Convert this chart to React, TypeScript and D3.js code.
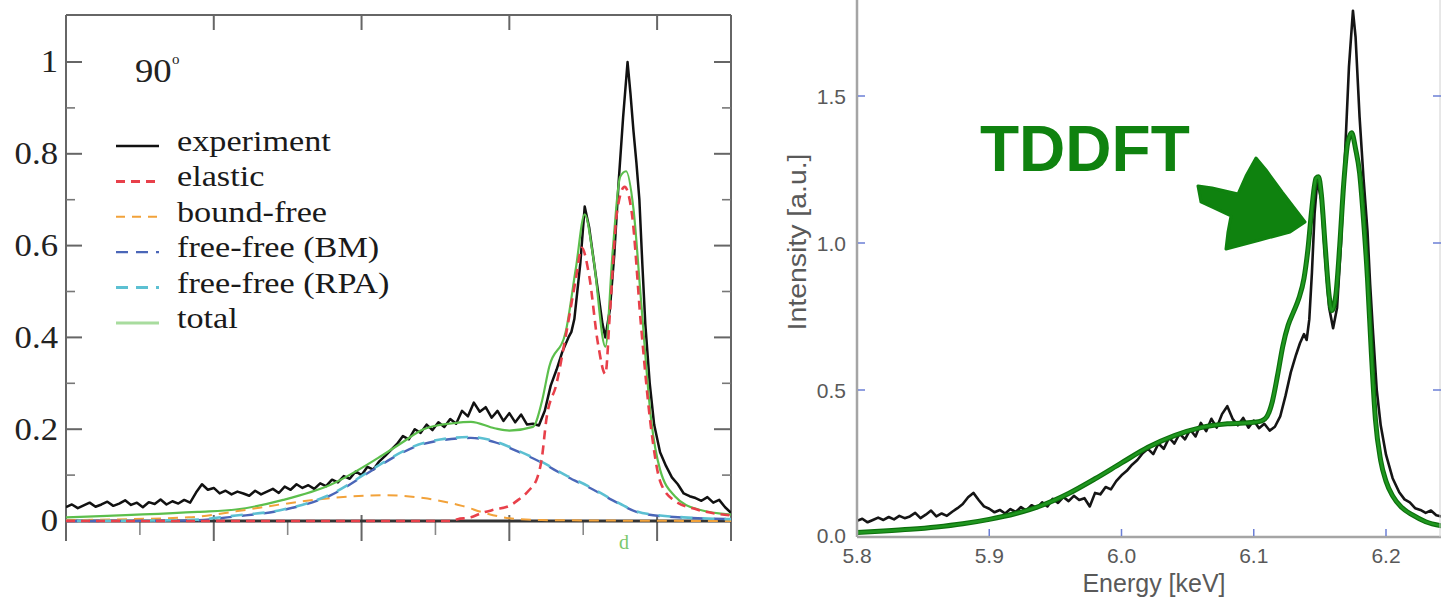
import React from "react";
import * as d3 from "d3";

type P = [number, number];

// ---------- Left panel (90°) data: energy [keV], normalized intensity ----------
const leftExperiment: P[] = [
  [5.800,0.030],[5.804,0.036],[5.808,0.028],[5.812,0.034],[5.816,0.040],[5.820,0.031],[5.824,0.036],[5.828,0.042],
  [5.832,0.033],[5.836,0.038],[5.840,0.045],[5.844,0.035],[5.848,0.040],[5.852,0.030],[5.856,0.041],[5.860,0.037],
  [5.864,0.047],[5.868,0.036],[5.872,0.043],[5.876,0.038],[5.880,0.046],[5.884,0.040],[5.888,0.062],[5.892,0.080],
  [5.896,0.068],[5.900,0.072],[5.904,0.060],[5.908,0.066],[5.912,0.058],[5.916,0.064],[5.920,0.060],[5.924,0.055],
  [5.928,0.066],[5.932,0.058],[5.936,0.064],[5.940,0.070],[5.944,0.061],[5.948,0.075],[5.952,0.068],[5.956,0.080],
  [5.960,0.072],[5.964,0.078],[5.968,0.070],[5.972,0.082],[5.976,0.076],[5.980,0.090],[5.984,0.084],[5.988,0.098],
  [5.992,0.092],[5.996,0.108],[6.000,0.100],[6.004,0.118],[6.008,0.112],[6.012,0.130],[6.016,0.142],[6.020,0.155],
  [6.024,0.168],[6.028,0.185],[6.032,0.178],[6.036,0.200],[6.040,0.192],[6.044,0.210],[6.048,0.198],[6.052,0.215],
  [6.056,0.205],[6.060,0.222],[6.064,0.212],[6.068,0.240],[6.072,0.228],[6.076,0.258],[6.080,0.238],[6.084,0.248],
  [6.088,0.225],[6.092,0.240],[6.096,0.218],[6.100,0.235],[6.104,0.215],[6.108,0.232],[6.112,0.210],[6.116,0.212],
  [6.120,0.208],[6.124,0.240],[6.128,0.295],[6.132,0.330],[6.136,0.370],[6.140,0.400],[6.142,0.412],[6.144,0.440],
  [6.148,0.560],[6.151,0.685],[6.154,0.640],[6.157,0.570],[6.160,0.500],[6.163,0.430],[6.165,0.400],[6.168,0.460],
  [6.171,0.580],[6.174,0.740],[6.177,0.880],[6.180,1.000],[6.182,0.930],[6.184,0.850],[6.186,0.780],[6.188,0.700],
  [6.190,0.560],[6.192,0.430],[6.195,0.300],[6.198,0.210],[6.202,0.150],[6.206,0.120],[6.210,0.095],[6.214,0.080],
  [6.218,0.060],[6.222,0.054],[6.226,0.050],[6.230,0.044],[6.234,0.052],[6.238,0.040],[6.242,0.046],[6.246,0.030],
  [6.250,0.018],
];

const leftElastic: P[] = [
  [5.800,0],[6.060,0],[6.065,0.004],[6.074,0.008],[6.081,0.017],[6.090,0.025],[6.100,0.033],[6.106,0.046],
  [6.113,0.066],[6.119,0.095],[6.122,0.137],[6.125,0.220],[6.132,0.300],[6.138,0.400],[6.145,0.527],[6.149,0.595],
  [6.154,0.535],[6.160,0.386],[6.165,0.320],[6.168,0.450],[6.173,0.676],[6.178,0.728],[6.183,0.668],[6.189,0.430],
  [6.196,0.200],[6.202,0.087],[6.211,0.046],[6.227,0.025],[6.250,0.012],
];

const leftBoundFree: P[] = [
  [5.800,0.002],[5.883,0.008],[5.915,0.021],[5.947,0.037],[5.979,0.050],[6.017,0.056],[6.042,0.050],
  [6.068,0.033],[6.084,0.017],[6.100,0.006],[6.122,0.002],[6.250,0.000],
];

const leftFreeFreeBM: P[] = [
  [5.800,0],[5.883,0.001],[5.915,0.010],[5.947,0.024],[5.979,0.056],[6.011,0.118],[6.027,0.148],[6.042,0.168],
  [6.074,0.181],[6.090,0.172],[6.106,0.151],[6.122,0.127],[6.138,0.098],[6.154,0.073],[6.170,0.045],[6.186,0.020],
  [6.202,0.011],[6.250,0.004],
];

const leftFreeFreeRPA: P[] = [
  [5.800,0],[5.883,0.002],[5.915,0.012],[5.947,0.025],[5.979,0.058],[6.011,0.120],[6.027,0.150],[6.042,0.170],
  [6.074,0.183],[6.090,0.174],[6.106,0.153],[6.122,0.129],[6.138,0.100],[6.154,0.075],[6.170,0.046],[6.186,0.021],
  [6.202,0.012],[6.218,0.008],[6.250,0.004],
];

const leftTotal: P[] = [
  [5.800,0.008],[5.889,0.020],[5.915,0.025],[5.947,0.046],[5.979,0.079],[6.011,0.137],[6.027,0.170],[6.042,0.200],
  [6.062,0.213],[6.074,0.216],[6.090,0.202],[6.100,0.197],[6.116,0.205],[6.122,0.260],[6.127,0.336],[6.138,0.410],
  [6.145,0.550],[6.151,0.668],[6.157,0.570],[6.165,0.380],[6.170,0.590],[6.175,0.750],[6.179,0.762],[6.184,0.680],
  [6.189,0.485],[6.196,0.220],[6.202,0.112],[6.212,0.054],[6.228,0.025],[6.250,0.014],
];

const leftYMajor = [0, 0.2, 0.4, 0.6, 0.8, 1];
const leftYLabels = ["0", "0.2", "0.4", "0.6", "0.8", "1"];
const leftYMinor = [0.1, 0.3, 0.5, 0.7, 0.9];
const leftXMajor = [5.9, 6.0, 6.1, 6.2];
const leftXMinor = [5.85, 5.95, 6.05, 6.15];

const legendLabels = ["experiment", "elastic", "bound-free", "free-free (BM)", "free-free (RPA)", "total"];

// ---------- Right panel (TDDFT) data ----------
const rightExperiment: P[] = [
  [5.800,0.055],[5.804,0.062],[5.808,0.050],[5.812,0.058],[5.816,0.066],[5.820,0.058],[5.824,0.068],[5.828,0.060],
  [5.832,0.072],[5.836,0.064],[5.840,0.070],[5.844,0.082],[5.848,0.064],[5.852,0.076],[5.856,0.090],[5.860,0.070],
  [5.864,0.080],[5.868,0.072],[5.872,0.086],[5.876,0.098],[5.880,0.112],[5.884,0.135],[5.888,0.150],[5.892,0.126],
  [5.896,0.104],[5.900,0.096],[5.904,0.084],[5.908,0.092],[5.912,0.080],[5.916,0.095],[5.920,0.085],[5.924,0.102],
  [5.928,0.090],[5.932,0.108],[5.936,0.098],[5.940,0.118],[5.944,0.104],[5.948,0.130],[5.952,0.116],[5.956,0.136],
  [5.960,0.122],[5.964,0.140],[5.968,0.126],[5.972,0.132],[5.976,0.104],[5.980,0.150],[5.984,0.145],[5.988,0.170],
  [5.992,0.162],[5.996,0.190],[6.000,0.210],[6.004,0.225],[6.008,0.246],[6.012,0.262],[6.016,0.285],[6.020,0.300],
  [6.024,0.282],[6.028,0.318],[6.032,0.300],[6.036,0.338],[6.040,0.318],[6.044,0.352],[6.048,0.332],[6.052,0.365],
  [6.056,0.342],[6.060,0.388],[6.064,0.360],[6.068,0.402],[6.072,0.372],[6.076,0.418],[6.080,0.445],[6.084,0.402],
  [6.088,0.380],[6.092,0.405],[6.096,0.372],[6.100,0.396],[6.104,0.370],[6.108,0.385],[6.112,0.362],[6.116,0.375],
  [6.120,0.410],[6.124,0.480],[6.128,0.560],[6.132,0.620],[6.135,0.660],[6.138,0.690],[6.140,0.670],[6.142,0.740],
  [6.144,0.900],[6.146,1.100],[6.148,1.210],[6.151,1.150],[6.154,0.950],[6.157,0.780],[6.160,0.710],[6.163,0.780],
  [6.166,1.000],[6.169,1.300],[6.172,1.600],[6.175,1.790],[6.177,1.700],[6.180,1.430],[6.183,1.220],[6.186,1.040],
  [6.188,0.860],[6.190,0.710],[6.193,0.500],[6.196,0.380],[6.200,0.280],[6.205,0.200],[6.210,0.152],[6.214,0.128],
  [6.218,0.118],[6.222,0.098],[6.226,0.092],[6.230,0.082],[6.234,0.090],[6.238,0.074],[6.242,0.070],
];

const rightTDDFT: P[] = [
  [5.800,0.015],[5.820,0.020],[5.840,0.026],[5.860,0.034],[5.880,0.045],[5.900,0.060],[5.920,0.080],[5.940,0.108],
  [5.960,0.148],[5.980,0.198],[6.000,0.252],[6.020,0.305],[6.040,0.345],[6.060,0.372],[6.080,0.385],[6.100,0.390],
  [6.106,0.395],[6.110,0.410],[6.114,0.460],[6.118,0.550],[6.122,0.650],[6.126,0.720],[6.130,0.765],[6.134,0.810],
  [6.138,0.880],[6.141,0.980],[6.144,1.120],[6.147,1.220],[6.149,1.225],[6.151,1.170],[6.154,0.990],[6.157,0.820],
  [6.159,0.770],[6.162,0.820],[6.165,0.990],[6.168,1.200],[6.171,1.340],[6.174,1.375],[6.177,1.320],[6.180,1.240],
  [6.183,1.080],[6.186,0.880],[6.189,0.620],[6.192,0.400],[6.196,0.260],[6.200,0.190],[6.205,0.140],[6.212,0.100],
  [6.220,0.075],[6.230,0.052],[6.242,0.038],
];

const rightYTicks = [0, 0.5, 1.0, 1.5];
const rightYLabels = ["0.0", "0.5", "1.0", "1.5"];
const rightXTicks = [5.8, 5.9, 6.0, 6.1, 6.2];
const rightXLabels = ["5.8", "5.9", "6.0", "6.1", "6.2"];

export default function App() {
  const W = 1441, H = 601;

  // Left scales
  const xL = d3.scaleLinear().domain([5.8, 6.25]).range([66, 731]);
  const yL = d3.scaleLinear().domain([0, 1]).range([521, 62]);
  const L = { left: 66, right: 731, top: 15, bottom: 541 };

  // Right scales
  const xR = d3.scaleLinear().domain([5.8, 6.2]).range([857, 1386]);
  const yR = d3.scaleLinear().domain([0, 1.5]).range([537, 96]);
  const R = { left: 857, right: 1441, top: 0, bottom: 537 };

  const lineL = d3.line<P>().x(d => xL(d[0])).y(d => yL(d[1]));
  const smoothL = d3.line<P>().x(d => xL(d[0])).y(d => yL(d[1])).curve(d3.curveMonotoneX);
  const lineR = d3.line<P>().x(d => xR(d[0])).y(d => yR(d[1]));
  const smoothR = d3.line<P>().x(d => xR(d[0])).y(d => yR(d[1])).curve(d3.curveMonotoneX);

  const serif = "'Liberation Serif', 'DejaVu Serif', serif";
  const sans = "'Liberation Sans', Arial, sans-serif";

  const legendStyles = [
    { stroke: "#111", width: 2.5, dash: undefined as string | undefined },
    { stroke: "#e8404a", width: 3, dash: "9 6" },
    { stroke: "#f2a23a", width: 2, dash: "9 7" },
    { stroke: "#4a66b8", width: 2.2, dash: "12 8" },
    { stroke: "#5cc0d2", width: 3, dash: "12 8" },
    { stroke: "#a8dc9e", width: 3, dash: undefined },
  ];
  const legendY0 = 146, legendDY = 35.4;

  const green = "#0f820f";

  return (
    <svg width={W} height={H} style={{ position: "absolute", left: 0, top: 0, background: "#fff" }}
      xmlns="http://www.w3.org/2000/svg">
      <defs>
        <clipPath id="clipL"><rect x={L.left} y={L.top} width={L.right - L.left} height={L.bottom - L.top} /></clipPath>
        <clipPath id="clipR"><rect x={R.left} y={R.top} width={R.right - R.left} height={R.bottom - R.top} /></clipPath>
      </defs>
      <rect x={0} y={0} width={W} height={H} fill="#fff" />

      {/* ================= LEFT PANEL ================= */}
      {/* frame */}
      <line x1={L.left} x2={L.right} y1={L.top} y2={L.top} stroke="#666" strokeWidth={2} />
      <line x1={L.left} x2={L.left} y1={L.top} y2={L.bottom} stroke="#666" strokeWidth={2} />
      <line x1={L.right} x2={L.right} y1={L.top} y2={L.bottom} stroke="#666" strokeWidth={2} />

      {/* y ticks */}
      {leftYMajor.map(v => (
        <g key={"lym" + v}>
          <line x1={L.left} x2={L.left + 16} y1={yL(v)} y2={yL(v)} stroke="#666" strokeWidth={2} />
          <line x1={L.right - 17} x2={L.right} y1={yL(v)} y2={yL(v)} stroke="#666" strokeWidth={2} />
        </g>
      ))}
      {leftYMinor.map(v => (
        <g key={"lyn" + v}>
          <line x1={L.left} x2={L.left + 9} y1={yL(v)} y2={yL(v)} stroke="#777" strokeWidth={1.6} />
          <line x1={L.right - 9} x2={L.right} y1={yL(v)} y2={yL(v)} stroke="#777" strokeWidth={1.6} />
        </g>
      ))}
      {leftYMajor.map((v, i) => (
        <g key={"lyl" + v} transform={`translate(58, ${yL(v)}) scale(1.12,1)`}>
          <text x={0} y={0} textAnchor="end" dominantBaseline="central" fontFamily={serif} fontSize={31} fill="#222">
            {leftYLabels[i]}
          </text>
        </g>
      ))}
      {/* x ticks top */}
      {leftXMajor.map(e => (
        <line key={"lxt" + e} x1={xL(e)} x2={xL(e)} y1={L.top} y2={L.top + 15} stroke="#666" strokeWidth={2} />
      ))}
      {/* x ticks bottom */}
      {leftXMajor.map(e => (
        <line key={"lxb" + e} x1={xL(e)} x2={xL(e)} y1={L.bottom} y2={L.bottom - 26} stroke="#666" strokeWidth={2} />
      ))}
      {leftXMinor.map(e => (
        <line key={"lxbn" + e} x1={xL(e)} x2={xL(e)} y1={L.bottom - 6} y2={L.bottom - 20} stroke="#888" strokeWidth={1.6} />
      ))}

      {/* zero line */}
      <line x1={L.left} x2={L.right} y1={yL(0)} y2={yL(0)} stroke="#333" strokeWidth={3} />

      <g clipPath="url(#clipL)" fill="none" strokeLinejoin="round">
        <path d={lineL(leftExperiment) || ""} stroke="#111" strokeWidth={2.5} />
        <path d={smoothL(leftTotal) || ""} stroke="#5cbf4c" strokeWidth={2.2} />
        <path d={smoothL(leftBoundFree) || ""} stroke="#f2a23a" strokeWidth={2} strokeDasharray="10 7" />
        <path d={smoothL(leftFreeFreeBM) || ""} stroke="#4a66b8" strokeWidth={2.4} strokeDasharray="12 10" />
        <path d={smoothL(leftFreeFreeRPA) || ""} stroke="#5cc0d2" strokeWidth={2.6} strokeDasharray="12 10" strokeDashoffset={11} />
        <path d={smoothL(leftElastic) || ""} stroke="#e8404a" strokeWidth={2.6} strokeDasharray="9 6" />
      </g>

      {/* 90° label */}
      <g transform="translate(135, 82) scale(1.08,1)">
        <text x={0} y={0} fontFamily={serif} fontSize={34} fill="#222">90</text>
      </g>
      <text x={172} y={64} fontFamily={serif} fontSize={15} fill="#222">o</text>

      {/* legend */}
      {legendLabels.map((lab, i) => {
        const y = legendY0 + i * legendDY;
        const s = legendStyles[i];
        return (
          <g key={"leg" + i}>
            <line x1={116} x2={159} y1={y} y2={y} stroke={s.stroke} strokeWidth={s.width} strokeDasharray={s.dash} />
            <g transform={`translate(177, ${y + 5}) scale(1.18,1)`}>
              <text x={0} y={0} fontFamily={serif} fontSize={29} fill="#1a1a1a">{lab}</text>
            </g>
          </g>
        );
      })}

      {/* cropped green label below */}
      <text x={619} y={549} fontFamily={serif} fontSize={20} fill="#7cc86c">d</text>

      {/* ================= RIGHT PANEL ================= */}
      <g clipPath="url(#clipR)" fill="none" strokeLinejoin="round">
        <path d={lineR(rightExperiment) || ""} stroke="#151515" strokeWidth={2.6} />
        <path d={smoothR(rightTDDFT) || ""} stroke="#0c6f0c" strokeWidth={5} />
        <path d={smoothR(rightTDDFT) || ""} stroke="#1f961f" strokeWidth={2.6} />
      </g>

      {/* axes */}
      <line x1={R.left} x2={R.left} y1={R.top} y2={R.bottom} stroke="#a5a5a5" strokeWidth={2.5} />
      <line x1={R.left} x2={R.right} y1={R.bottom} y2={R.bottom} stroke="#a5a5a5" strokeWidth={2.5} />
      <line x1={R.right - 1} x2={R.right - 1} y1={R.top} y2={R.bottom} stroke="#d0d0d0" strokeWidth={1} />

      {rightYTicks.filter(v => v > 0).map(v => (
        <g key={"ryt" + v}>
          <line x1={R.left + 1} x2={R.left + 8} y1={yR(v)} y2={yR(v)} stroke="#6b7fd6" strokeWidth={1.5} />
          <line x1={R.right - 8} x2={R.right} y1={yR(v)} y2={yR(v)} stroke="#6b7fd6" strokeWidth={1.5} />
        </g>
      ))}
      {rightXTicks.filter(e => e > 5.8).map(e => (
        <line key={"rxt" + e} x1={xR(e)} x2={xR(e)} y1={R.bottom - 1} y2={R.bottom - 8} stroke="#6b7fd6" strokeWidth={1.5} />
      ))}

      {rightYTicks.map((v, i) => (
        <text key={"ryl" + v} x={846} y={yR(v) - (v === 0 ? 2 : 0)} textAnchor="end" dominantBaseline="central"
          fontFamily={sans} fontSize={21} fill="#595959">{rightYLabels[i]}</text>
      ))}
      {rightXTicks.map((e, i) => (
        <text key={"rxl" + e} x={xR(e)} y={563} textAnchor="middle"
          fontFamily={sans} fontSize={21} fill="#595959">{rightXLabels[i]}</text>
      ))}

      <text x={1154} y={592} textAnchor="middle" fontFamily={sans} fontSize={25} fill="#595959">Energy [keV]</text>
      <text transform="translate(806, 242) rotate(-90)" x={0} y={0} textAnchor="middle"
        fontFamily={sans} fontSize={25} fill="#595959" textLength={177} lengthAdjust="spacingAndGlyphs">Intensity [a.u.]</text>

      {/* TDDFT annotation */}
      <text x={980} y={171} fontFamily={sans} fontWeight="bold" fontSize={64} fill={green}>TDDFT</text>
      <path
        d="M1198,186 L1212,188 L1238,194 L1246,176 L1256,158 L1266,170 L1282,192 L1305,222 L1290,232 L1260,240 L1226,249 L1228,232 L1231,216 L1214,208 L1201,202 Z"
        fill={green} stroke={green} strokeWidth={3} strokeLinejoin="round" />
    </svg>
  );
}
